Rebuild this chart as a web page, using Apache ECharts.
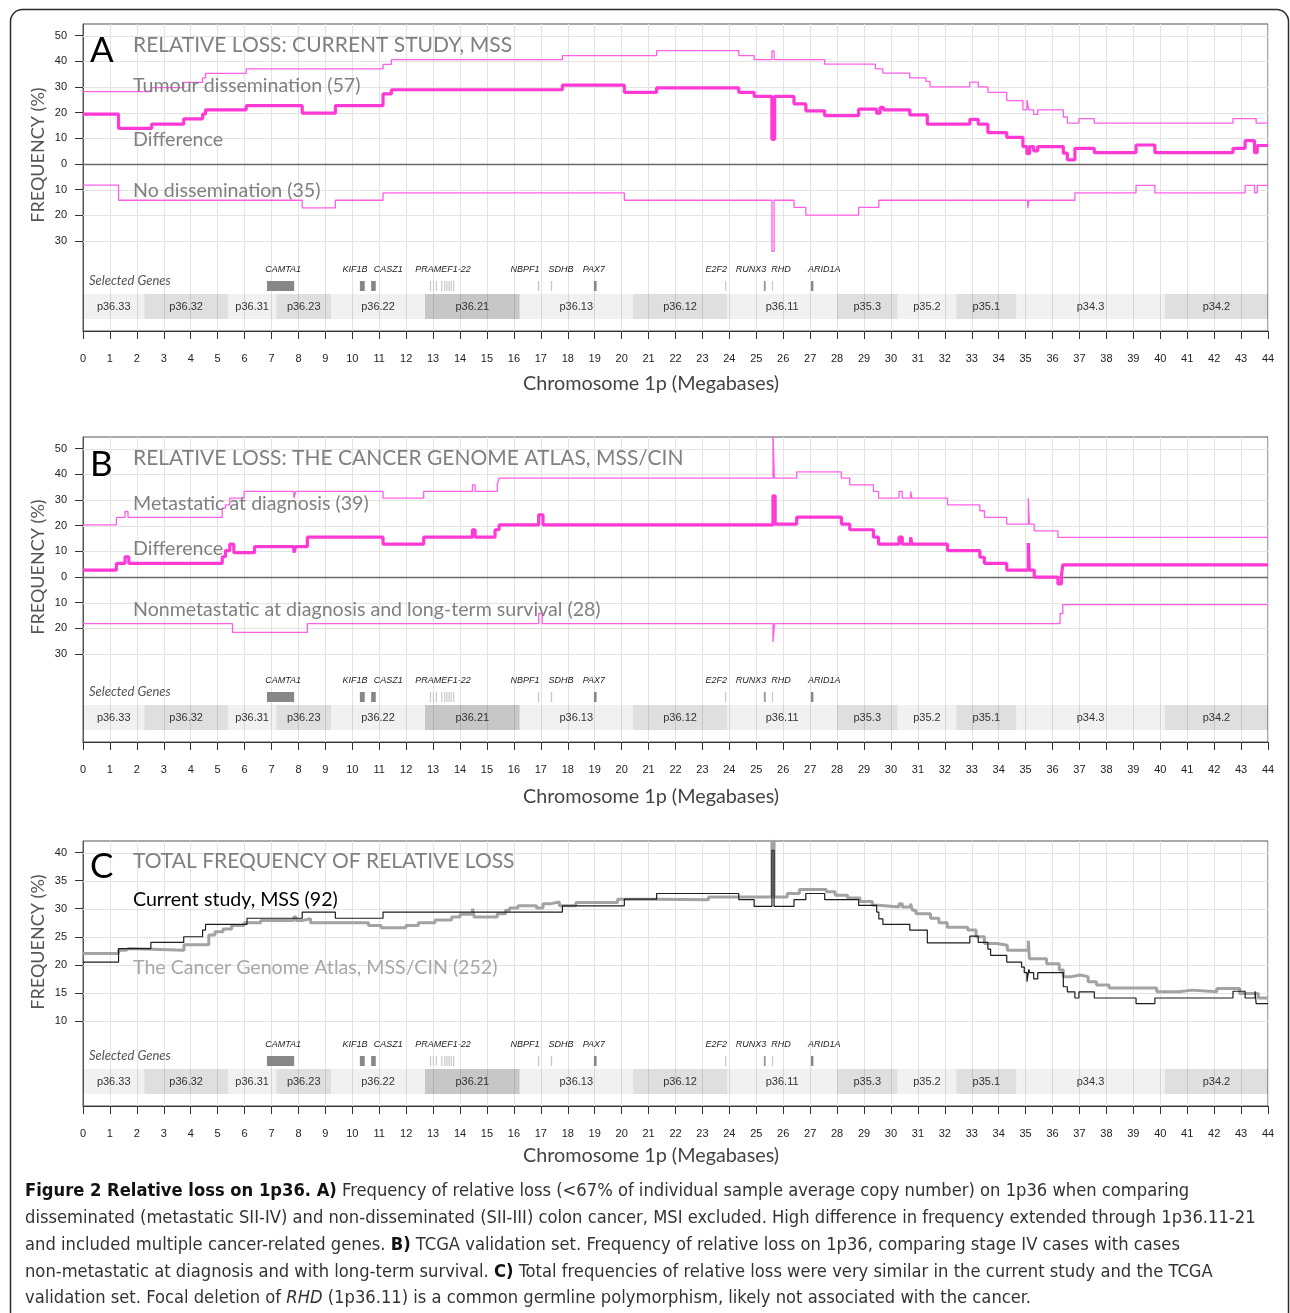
<!DOCTYPE html>
<html><head><meta charset="utf-8">
<script src="https://cdn.jsdelivr.net/npm/echarts@6/dist/echarts.min.js"></script>
<style>html,body{margin:0;padding:0;background:#fff}#c{width:1290px;height:1313px}</style>
</head><body><div id="c"></div>
<script>
// ---------- chromosome bands ----------
const bandNames = ['p36.33','p36.32','p36.31','p36.23','p36.22','p36.21','p36.13','p36.12','p36.11','p35.3','p35.2','p35.1','p34.3','p34.2'];
const bandStart = [0,2.28,5.38,7.18,9.21,12.70,16.21,20.42,23.92,28.0,30.24,32.43,34.65,40.17];
const bandEnd   = [2.28,5.38,7.18,9.21,12.70,16.21,20.42,23.92,28.0,30.24,32.43,34.65,40.17,44];
const bandShade = [0,1,0,1,0,2,0,1,0,1,0,1,0,1];

// ---------- selected genes ----------
const geneStart = [6.83,10.28,10.70,12.88,12.99,13.10,13.30,13.41,13.49,13.57,13.65,13.74,16.89,17.37,18.97,23.84,25.28,25.58,27.03];
const geneEnd   = [7.84,10.46,10.87,12.92,13.03,13.14,13.34,13.45,13.53,13.61,13.69,13.78,16.94,17.42,19.07,23.88,25.35,25.62,27.12];
const geneShade = [2,2,2,0,0,0,0,0,0,0,0,0,0,0,2,0,1,0,2];
const geneLabels   = ['CAMTA1','KIF1B','CASZ1','PRAMEF1-22','NBPF1','SDHB','PAX7','E2F2','RUNX3','RHD','ARID1A'];
const geneLabelPos = [7.43,10.10,11.33,13.37,16.41,17.75,18.97,23.51,24.80,25.92,27.52];

// ---------- axis ticks ----------
const yTicksAB = [-30,-20,-10,0,10,20,30,40,50];
const yTicksC  = [10,15,20,25,30,35,40];

// ---------- Panel A: current study (Mb, %) ----------
const aTumour = [[0,28.2],[2.55,29.7],[3.74,31.8],[4.44,33.5],[4.55,35.3],[6.06,37.0],[11.14,38.8],[11.45,40.6],[17.8,42.2],[21.3,44.1],[24.35,42.2],[24.92,40.6],[25.58,44.0],[25.66,40.6],[27.54,38.9],[29.42,37.0],[29.7,35.4],[30.7,33.5],[31.3,32.2],[31.45,30.0],[32.93,31.9],[33.24,30.0],[33.6,27.9],[34.3,24.7],[34.9,21.1],[35.05,24.9],[35.12,21.1],[35.3,19.3],[35.45,21.1],[36.4,18.3],[36.55,15.9],[36.98,17.7],[37.55,15.9],[42.7,17.7],[43.56,15.9],[44,15.9]];
const aDiff = [[0,19.4],[1.32,13.9],[2.55,15.5],[3.74,17.6],[4.44,19.4],[4.55,21.1],[6.06,22.7],[8.14,19.8],[9.37,22.7],[11.14,27.3],[11.45,28.9],[17.8,30.7],[20.1,27.9],[21.3,29.6],[24.35,27.9],[24.92,26.3],[25.58,9.6],[25.68,26.3],[26.4,23.4],[26.84,20.7],[27.54,18.8],[28.8,21.4],[29.47,19.8],[29.6,22.1],[29.72,21.1],[30.7,19.1],[31.35,15.5],[32.93,17.4],[33.24,15.5],[33.6,12.2],[34.3,10.4],[34.9,6.8],[35.05,4.0],[35.15,6.8],[35.3,5.1],[35.45,6.8],[36.4,4.2],[36.55,1.6],[36.83,6.1],[37.55,4.4],[39.1,7.4],[39.8,4.4],[42.7,6.1],[43.15,9.1],[43.5,4.4],[43.6,7.2],[44,7.2]];
const aNoDiss = [[0,-8.2],[1.32,-14.1],[8.14,-17.1],[9.37,-14.1],[11.14,-11.2],[20.1,-14.1],[25.58,-34.0],[25.66,-14.1],[26.4,-16.9],[26.84,-19.9],[28.8,-16.9],[29.55,-14.1],[35.08,-17.2],[35.13,-14.1],[36.83,-11.2],[39.1,-8.3],[39.8,-11.2],[43.15,-8.3],[43.5,-11.2],[43.6,-8.3],[44,-8.3]];

// ---------- Panel B: TCGA ----------
const bMeta = [[0,20.3],[1.24,23.2],[1.56,25.5],[1.67,23.2],[5.17,26.8],[5.29,28.1],[5.45,30.7],[5.98,33.3],[7.83,30.7],[7.9,33.3],[11.14,30.7],[12.65,33.3],[14.46,35.9],[14.56,33.3],[15.38,35.9],[15.45,38.5],[25.62,57.0],[25.67,38.5],[26.5,40.9],[28.16,38.5],[28.47,35.9],[29.35,33.3],[29.54,30.7],[30.3,33.3],[30.42,30.7],[30.73,33.3],[30.78,30.7],[32.1,28.1],[33.3,25.8],[33.47,23.2],[34.3,20.6],[35.1,30.7],[35.14,20.6],[35.32,18.0],[36.2,15.4],[44,15.4]];
const bDiff = [[0,2.7],[1.24,5.3],[1.56,7.9],[1.7,5.3],[5.17,7.9],[5.29,10.3],[5.45,12.8],[5.6,9.5],[6.37,11.8],[7.83,9.5],[7.9,11.8],[8.33,15.5],[11.14,12.8],[12.65,15.5],[14.46,18.4],[14.56,15.5],[15.3,18.4],[15.45,20.3],[16.92,24.2],[17.08,20.3],[25.62,31.6],[25.7,20.6],[26.5,23.3],[28.16,20.6],[28.47,18.4],[29.35,15.5],[29.54,12.8],[30.3,15.5],[30.42,12.8],[30.73,15.5],[30.78,12.8],[32.1,10.3],[33.3,7.7],[33.47,5.3],[34.3,2.7],[35.1,13.2],[35.14,2.7],[35.32,0],[36.2,-2.7],[36.33,0.5],[36.38,4.7],[44,4.7]];
const bNonMeta = [[0,-18.1],[5.55,-21.5],[8.33,-18.1],[16.92,-14.2],[17.05,-18.1],[25.62,-25.3],[25.68,-18.1],[36.28,-14.2],[36.38,-10.7],[44,-10.7]];

// ---------- Panel C: totals ----------
const cCurrent = [[0,20.5],[1.32,22.9],[2.52,24.0],[3.74,25.0],[4.44,26.2],[4.55,27.2],[6.09,28.3],[8.14,29.4],[9.37,28.3],[11.14,29.4],[17.8,30.5],[20.1,31.7],[21.3,32.7],[24.35,31.6],[24.92,30.4],[25.58,40.4],[25.66,30.4],[26.4,31.6],[26.84,32.7],[27.54,31.6],[28.8,30.6],[29.47,29.4],[29.55,28.2],[29.7,27.2],[30.7,26.2],[31.35,23.9],[32.93,25.1],[33.24,24.0],[33.6,22.8],[33.7,21.7],[34.3,20.5],[34.85,19.6],[34.95,18.6],[35.05,17.0],[35.12,19.2],[35.15,18.6],[35.3,17.5],[35.45,18.6],[36.4,16.1],[36.55,15.2],[36.83,14.1],[36.98,15.2],[37.55,14.1],[39.1,13.1],[39.8,14.1],[42.7,15.3],[43.15,14.1],[43.52,15.3],[43.56,13.1],[44,13.1]];
const cTCGA = [[0,22.0],[1.32,22.6],[1.6,22.9],[1.7,22.6],[3.75,23.6],[4.67,25.3],[4.9,25.9],[5.2,26.4],[5.52,27.0],[5.98,27.5],[6.6,27.9],[7.83,28.5],[7.91,27.9],[8.14,28.2],[8.45,27.5],[10.6,27.0],[11.07,26.6],[11.99,27.0],[12.45,27.5],[13.07,28.0],[13.69,28.5],[14.0,29.0],[14.46,30.0],[14.53,28.5],[15.38,29.1],[15.69,29.7],[15.84,30.1],[16.15,30.5],[16.84,30.1],[17.08,30.9],[17.38,31.2],[17.69,30.5],[18.3,31.1],[19.85,31.7],[21.3,31.6],[23.23,32.1],[25.58,42.0],[25.66,32.1],[26.15,32.7],[26.6,33.4],[27.6,33.0],[27.93,32.4],[28.39,31.9],[28.85,31.3],[29.31,30.6],[29.54,30.3],[30.3,30.9],[30.42,30.3],[30.73,30.9],[30.8,29.7],[30.93,29.1],[31.47,28.3],[31.78,27.5],[32.09,26.7],[32.85,26.2],[33.16,25.0],[33.47,23.8],[33.94,23.5],[34.32,22.6],[35.1,24.3],[35.14,21.1],[35.78,20.2],[36.25,19.1],[36.4,17.9],[36.71,18.2],[37.02,17.9],[37.32,17.0],[37.63,16.4],[38.1,15.9],[39.87,15.2],[40.7,15.5],[41.17,15.2],[42.1,15.8],[42.95,14.9],[43.64,14.1],[44,14.1]];

// ---------- styling ----------
const SANS = '"Liberation Sans", Arial, sans-serif';
const HUM = 'Lato, "Open Sans", sans-serif';
const bandFill = ['rgba(0,0,0,0.055)','rgba(0,0,0,0.125)','rgba(0,0,0,0.22)'];
const geneFill = ['#c8c8c8','#9a9a9a','#878787'];
const PINK_THIN = '#ff5fe6', PINK_THICK = '#ff38d6';

const panels = [
  {top:24, height:307, min:-65.0, max:54.5, ticks:yTicksAB, zero:true},
  {top:437, height:305, min:-64.2, max:54.5, ticks:yTicksAB, zero:true},
  {top:841, height:265, min:-5.13, max:42.05, ticks:yTicksC, zero:false}
];

const grid = panels.map(p => ({left:83, top:p.top, width:1185, height:p.height, show:true, borderColor:'#555', borderWidth:1}));
const xAxis = panels.map((p,i) => ({type:'value', gridIndex:i, min:0, max:44, interval:1,
  axisLine:{show:true, onZero:false, lineStyle:{color:'#333', width:1}},
  axisTick:{show:true, length:8, lineStyle:{color:'#333'}},
  axisLabel:{margin:22, color:'#222', fontSize:11, fontFamily:SANS},
  splitLine:{show:true, lineStyle:{color:'#e3e3e3', width:1}}}));
const yAxis = panels.map((p,i) => ({type:'value', gridIndex:i, min:p.min, max:p.max,
  axisLine:{show:true, onZero:false, lineStyle:{color:'#555'}},
  axisTick:{show:true, length:8, customValues:p.ticks, lineStyle:{color:'#333'}},
  axisLabel:{customValues:p.ticks, formatter:v => String(Math.abs(Math.round(v))), margin:16, color:'#222', fontSize:11, fontFamily:SANS},
  splitLine:{show:false}}));

function hGrid(i){
  const p = panels[i];
  return {type:'custom', xAxisIndex:i, yAxisIndex:i, silent:true, z:1, animation:false,
    data:p.ticks.map(v => [0, v]),
    renderItem:(params, api) => {
      const cs = params.coordSys; const v = api.value(1);
      const y = Math.round(api.coord([0, v])[1]) + 0.5;
      const dark = p.zero && v === 0;
      return {type:'line', z2: dark ? 10 : 0, shape:{x1:cs.x, y1:y, x2:cs.x + cs.width, y2:y},
        style:{stroke: dark ? '#6a6a6a' : '#e3e3e3', lineWidth: dark ? 1.6 : 1}};
    }};
}
function bands(i){
  return {type:'custom', xAxisIndex:i, yAxisIndex:i, silent:true, z:2, animation:false, clip:false,
    data:bandNames.map((n,k) => [bandStart[k], 0, k]),
    renderItem:(params, api) => {
      const k = api.value(2); const cs = params.coordSys; const yb = cs.y + cs.height;
      const x0 = api.coord([bandStart[k], 0])[0], x1 = api.coord([bandEnd[k], 0])[0];
      return {type:'group', children:[
        {type:'rect', shape:{x:x0, y:yb-37, width:x1-x0, height:25}, style:{fill:bandFill[bandShade[k]]}},
        {type:'text', style:{text:bandNames[k], x:(x0+x1)/2, y:yb-24.5, align:'center', verticalAlign:'middle', fill:'#333', fontSize:11, fontFamily:SANS}}
      ]};
    }};
}
function genes(i){
  return {type:'custom', xAxisIndex:i, yAxisIndex:i, silent:true, z:2, animation:false, clip:false,
    data:geneStart.map((s,k) => [s, 0, k]),
    renderItem:(params, api) => {
      const k = api.value(2); const cs = params.coordSys; const yb = cs.y + cs.height;
      const x0 = api.coord([geneStart[k], 0])[0], x1 = api.coord([geneEnd[k], 0])[0];
      return {type:'rect', shape:{x:x0, y:yb-50, width:Math.max(1.2, x1-x0), height:10}, style:{fill:geneFill[geneShade[k]]}};
    }};
}
function geneNames(i){
  return {type:'custom', xAxisIndex:i, yAxisIndex:i, silent:true, z:2, animation:false, clip:false,
    data:geneLabels.map((g,k) => [geneLabelPos[k], 0, k]),
    renderItem:(params, api) => {
      const k = api.value(2); const cs = params.coordSys; const yb = cs.y + cs.height;
      const x = api.coord([geneLabelPos[k], 0])[0];
      const kids = [{type:'text', style:{text:geneLabels[k], x:x, y:yb-62, align:'center', verticalAlign:'middle', fill:'#222', fontSize:9, fontStyle:'italic', fontFamily:SANS}}];
      if (k === 0) kids.push({type:'text', style:{text:'Selected Genes', x:cs.x + 6, y:yb-50, align:'left', verticalAlign:'middle', fill:'#555', fontSize:13, fontStyle:'italic', fontFamily:HUM}});
      return {type:'group', children:kids};
    }};
}
function stepLine(i, data, color, width, z){
  return {type:'line', xAxisIndex:i, yAxisIndex:i, step:'end', data:data, showSymbol:false, symbol:'none',
    silent:true, animation:false, clip:true, z:z, lineStyle:{color:color, width:width}};
}

const series = [];
[0,1,2].forEach(i => { series.push(hGrid(i), bands(i), genes(i), geneNames(i)); });
series.push(
  stepLine(0, aTumour, PINK_THIN, 1.3, 4),
  stepLine(0, aNoDiss, PINK_THIN, 1.3, 4),
  stepLine(0, aDiff, PINK_THICK, 3.2, 5),
  stepLine(1, bMeta, PINK_THIN, 1.3, 4),
  stepLine(1, bNonMeta, PINK_THIN, 1.3, 4),
  stepLine(1, bDiff, PINK_THICK, 3.2, 5),
  stepLine(2, cTCGA, '#a3a3a3', 3, 4),
  stepLine(2, cCurrent, '#1c1c1c', 1.2, 5)
);

// ---------- text annotations ----------
function txt(x, y, text, size, fill, family, extra){
  return Object.assign({type:'text', x:x, y:y, silent:true, z:50,
    style:Object.assign({text:text, fill:fill, fontSize:size, fontFamily:family, verticalAlign:'middle', align:'left'}, extra || {})});
}
const LS = 19.6;
const graphic = [
  {type:'rect', silent:true, z:0, shape:{x:10.5, y:9.5, width:1278, height:1340, r:12}, style:{fill:'none', stroke:'#2a2a2a', lineWidth:1.5}},
  txt(90, 51, 'A', 35, '#000', HUM), txt(133, 45, 'RELATIVE LOSS: CURRENT STUDY, MSS', 21, '#808080', HUM),
  txt(133, 86, 'Tumour dissemination (57)', LS, '#808080', HUM),
  txt(133, 140, 'Difference', LS, '#808080', HUM),
  txt(133, 191, 'No dissemination (35)', LS, '#808080', HUM),
  txt(90, 465, 'B', 35, '#000', HUM), txt(133, 458, 'RELATIVE LOSS: THE CANCER GENOME ATLAS, MSS/CIN', 21, '#808080', HUM),
  txt(133, 504, 'Metastatic at diagnosis (39)', LS, '#808080', HUM),
  txt(133, 549, 'Difference', LS, '#808080', HUM),
  txt(133, 610, 'Nonmetastatic at diagnosis and long-term survival (28)', LS, '#808080', HUM),
  txt(90, 867, 'C', 35, '#000', HUM), txt(133, 861, 'TOTAL FREQUENCY OF RELATIVE LOSS', 21, '#808080', HUM),
  txt(133, 900, 'Current study, MSS (92)', LS, '#000', HUM),
  txt(133, 968, 'The Cancer Genome Atlas, MSS/CIN (252)', LS, '#a8a8a8', HUM)
];
[155, 567, 942].forEach(cy => graphic.push(Object.assign(txt(38, cy, 'FREQUENCY (%)', 18, '#555', HUM, {align:'center'}), {rotation:Math.PI/2})));
[384, 797, 1156].forEach(cy => graphic.push(txt(651, cy, 'Chromosome 1p (Megabases)', 19.8, '#444', HUM, {align:'center'})));

const CAP = '"Liberation Sans Narrow", "DejaVu Sans Condensed", "Roboto Condensed", sans-serif';
const CS = 18.2;
const capLines = [
  '{b|Figure 2 Relative loss on 1p36. A)} Frequency of relative loss (<67% of individual sample average copy number) on 1p36 when comparing',
  'disseminated (metastatic SII-IV) and non-disseminated (SII-III) colon cancer, MSI excluded. High difference in frequency extended through 1p36.11-21',
  'and included multiple cancer-related genes. {b|B)} TCGA validation set. Frequency of relative loss on 1p36, comparing stage IV cases with cases',
  'non-metastatic at diagnosis and with long-term survival. {b|C)} Total frequencies of relative loss were very similar in the current study and the TCGA',
  'validation set. Focal deletion of {i|RHD} (1p36.11) is a common germline polymorphism, likely not associated with the cancer.'
];
graphic.push({type:'text', x:25, y:1178, silent:true, z:50, style:{text:capLines.join('\n'), fill:'#333', fontSize:CS, fontFamily:CAP, lineHeight:26.8, verticalAlign:'top', align:'left',
  rich:{b:{fontWeight:'bold', fill:'#111', fontSize:CS, fontFamily:CAP, lineHeight:26.8}, i:{fontStyle:'italic', fill:'#333', fontSize:CS, fontFamily:CAP, lineHeight:26.8}}}});

const chart = echarts.init(document.getElementById('c'), null, {renderer:'canvas'});
chart.setOption({animation:false, backgroundColor:'#fff', grid:grid, xAxis:xAxis, yAxis:yAxis, series:series, graphic:graphic});
</script></body></html>
